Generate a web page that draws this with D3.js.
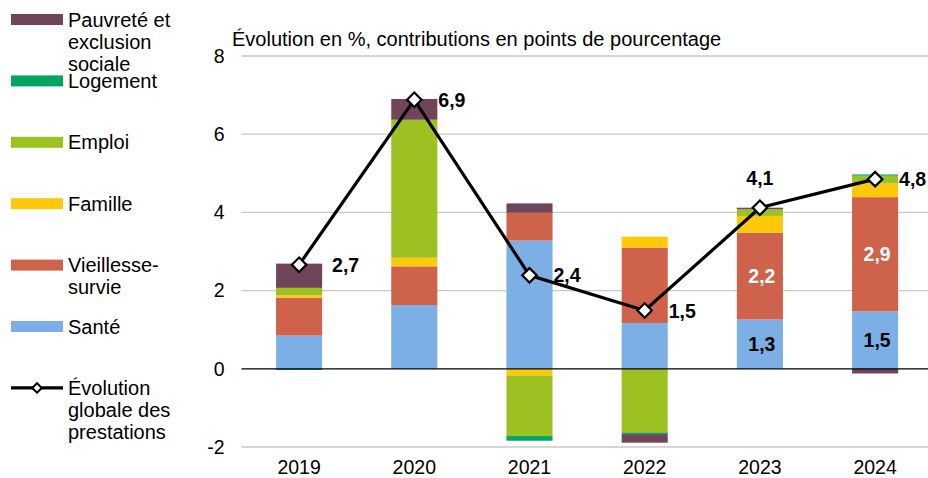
<!DOCTYPE html>
<html><head><meta charset="utf-8">
<script src="https://cdn.jsdelivr.net/npm/d3@7"></script>
<style>
body{margin:0;background:#fff;}
svg{font-family:"Liberation Sans",Arial,sans-serif;}
</style></head>
<body><svg id="c" width="928" height="478"></svg>
<script>
const years = ["2019","2020","2021","2022","2023","2024"];
const sante      = [0.85, 1.63, 3.28, 1.17, 1.26, 1.47];
const vieillesse = [0.97, 0.99, 0.71, 1.93, 2.22, 2.92];
const famille    = [0.06, 0.22, -0.17, 0.28, 0.43, 0.35];
const emploi     = [0.19, 3.53, -1.55, -1.63, 0.17, 0.20];
const logement   = [-0.03, 0.00, -0.12, -0.04, 0.00, 0.03];
const pauvrete   = [0.62, 0.53, 0.24, -0.22, 0.04, -0.12];
const total      = [2.66, 6.88, 2.39, 1.49, 4.12, 4.85];
const yTicks = [-2, 0, 2, 4, 6, 8];
const seriesNames = ["Santé","Vieillesse-survie","Famille","Emploi","Logement","Pauvreté et exclusion sociale"];
const seriesKeys = ["sante","vieillesse","famille","emploi","logement","pauvrete"];
const colors = ["#7BAFE5","#CF624B","#FFC90A","#9CC121","#00A562","#704459"];
const labeledSeries = {sante:"#000", vieillesse:"#fff"};
const labeledYears = ["2023","2024"];
const title = "Évolution en %, contributions en points de pourcentage";

const fmt = v => d3.format(".1f")(v).replace(".", ",");
const rows = years.map((y,i)=>({year:y, sante:sante[i], vieillesse:vieillesse[i], famille:famille[i], emploi:emploi[i], logement:logement[i], pauvrete:pauvrete[i], total:total[i]}));

const svg = d3.select("#c");
const x = d3.scaleBand().domain(years).range([241.5, 932.7]).paddingInner(0.6).paddingOuter(0.3);
const y = d3.scaleLinear().domain([-2, 8]).range([447, 56]);
const color = d3.scaleOrdinal().domain(seriesKeys).range(colors);

// gridlines
svg.append("g").selectAll("line").data(yTicks.filter(t=>t!==0)).join("line")
  .attr("x1", 241.5).attr("x2", 928).attr("y1", d=>y(d)).attr("y2", d=>y(d))
  .attr("stroke", "#c9c9c9").attr("stroke-width", 1.3);

// y axis labels
const ya = svg.append("g").attr("transform","translate(241.5,0)")
  .call(d3.axisLeft(y).tickValues(yTicks).tickSize(0).tickPadding(17).tickFormat(d=>String(d)));
ya.select(".domain").remove();
ya.selectAll("text").attr("font-size", 19.5).attr("fill","#000").attr("font-family","Liberation Sans, Arial, sans-serif");

// x axis labels
const xa = svg.append("g").attr("transform", `translate(0,${y(-2)})`)
  .call(d3.axisBottom(x).tickSize(0).tickPadding(13.5));
xa.select(".domain").remove();
xa.selectAll("text").attr("font-size", 19.5).attr("fill","#000").attr("font-family","Liberation Sans, Arial, sans-serif");

// stacks
const stack = d3.stack().keys(seriesKeys).offset(d3.stackOffsetDiverging);
const stacked = stack(rows);
const gBars = svg.append("g");
stacked.forEach(s=>{
  gBars.append("g").attr("fill", color(s.key)).selectAll("rect").data(s).join("rect")
    .attr("x", d=>x(d.data.year)).attr("width", x.bandwidth())
    .attr("y", d=>y(Math.max(d[0],d[1])))
    .attr("height", d=>Math.abs(y(d[0])-y(d[1])));
});

// segment labels
stacked.filter(s=>labeledSeries[s.key]).forEach(s=>{
  gBars.append("g").selectAll("text").data(s.filter(d=>labeledYears.includes(d.data.year))).join("text")
    .attr("x", d=>x(d.data.year)+x.bandwidth()/2+2)
    .attr("y", d=>y((d[0]+d[1])/2))
    .attr("dy","0.36em").attr("text-anchor","middle")
    .attr("font-size", 19.5).attr("font-weight","bold").attr("fill", labeledSeries[s.key])
    .text(d=>fmt(d.data[s.key]));
});

// zero line
svg.append("line").attr("x1",241.5).attr("x2",928).attr("y1",y(0)).attr("y2",y(0))
  .attr("stroke","#000").attr("stroke-width",1.3);

// total line
const cx = d => x(d.year)+x.bandwidth()/2;
svg.append("path").datum(rows)
  .attr("d", d3.line().x(cx).y(d=>y(d.total)))
  .attr("fill","none").attr("stroke","#000").attr("stroke-width",3.2);
const diamond = d3.symbol().type(d3.symbolSquare).size(105);
svg.append("g").selectAll("path").data(rows).join("path")
  .attr("d", diamond())
  .attr("transform", d=>`translate(${cx(d)},${y(d.total)}) rotate(45)`)
  .attr("fill","#fff").attr("stroke","#000").attr("stroke-width",2.2);

// total labels
const labelPlace = ["right-far","right","right","right","above","right"];
svg.append("g").selectAll("text").data(rows).join("text")
  .attr("x", (d,i)=> labelPlace[i]==="above" ? cx(d) : cx(d) + (labelPlace[i]==="right-far"?33:24))
  .attr("y", (d,i)=> labelPlace[i]==="above" ? y(d.total)-23 : y(d.total)+7)
  .attr("text-anchor", (d,i)=> labelPlace[i]==="above" ? "middle" : "start")
  .attr("font-size", 19.5).attr("font-weight","bold").attr("fill","#000")
  .text(d=>fmt(d.total));

// title
svg.append("text").attr("x",232).attr("y",46).attr("font-size",20).attr("fill","#000").text(title);

// legend
const legendItems = [
  {key:"pauvrete", lines:["Pauvreté et","exclusion","sociale"]},
  {key:"logement", lines:["Logement"]},
  {key:"emploi", lines:["Emploi"]},
  {key:"famille", lines:["Famille"]},
  {key:"vieillesse", lines:["Vieillesse-","survie"]},
  {key:"sante", lines:["Santé"]},
  {key:"total", lines:["Évolution","globale des","prestations"]}
];
const lg = svg.append("g");
legendItems.forEach((it,i)=>{
  const cy = 19.5 + i*61.4;
  if(it.key==="total"){
    lg.append("line").attr("x1",11).attr("x2",63).attr("y1",cy).attr("y2",cy).attr("stroke","#000").attr("stroke-width",3.2);
    lg.append("path").attr("d", d3.symbol().type(d3.symbolSquare).size(45)()).attr("transform",`translate(37,${cy}) rotate(45)`)
      .attr("fill","#fff").attr("stroke","#000").attr("stroke-width",2);
  } else {
    lg.append("rect").attr("x",11).attr("y",cy-5.5).attr("width",52).attr("height",11).attr("fill",color(it.key));
  }
  const t = lg.append("text").attr("x",68).attr("y",cy+7).attr("font-size",20).attr("fill","#000");
  it.lines.forEach((l,j)=>t.append("tspan").attr("x",68).attr("dy", j===0?0:22).text(l));
});
</script></body></html>
